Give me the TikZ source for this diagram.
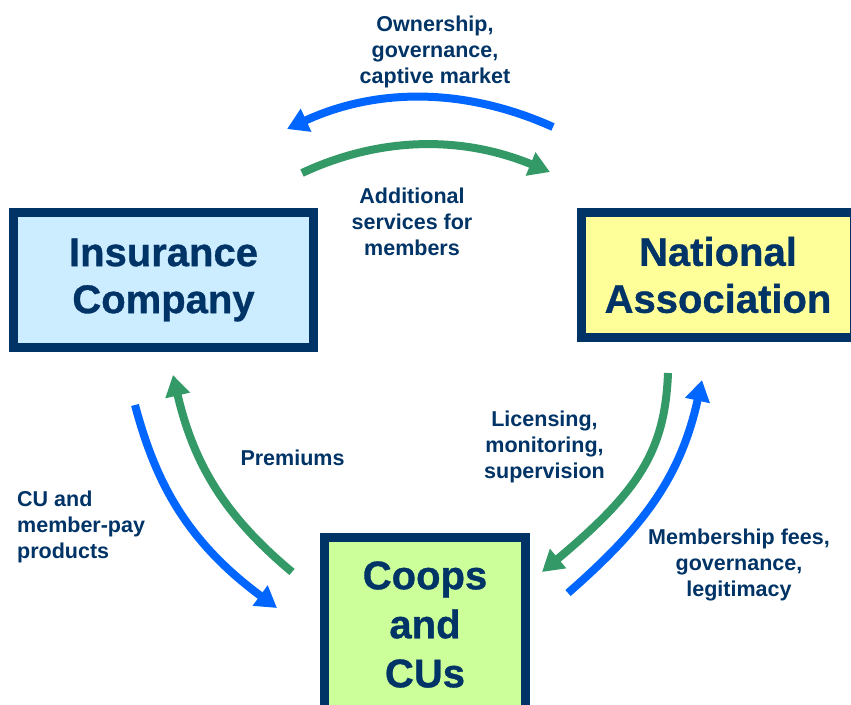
\documentclass[tikz,border=0pt]{standalone}
\usepackage{fontspec}
\setmainfont{Liberation Sans}
\newfontfamily\bigfont[FakeBold=0.8]{Liberation Sans Bold}
\usetikzlibrary{arrows.meta}
\definecolor{navy}{HTML}{003366}
\definecolor{arrblue}{HTML}{0066FF}
\definecolor{arrgreen}{HTML}{339966}
\definecolor{fillblue}{HTML}{CCECFF}
\definecolor{fillyellow}{HTML}{FFFF99}
\definecolor{fillgreen}{HTML}{CCFF99}
\begin{document}
\begin{tikzpicture}[x=1pt,y=-1pt,
  box/.style={draw=navy, line width=9pt, rectangle, inner sep=0pt, align=center,
    font=\fontsize{40}{47}\bigfont\selectfont, text=navy},
  lbl/.style={inner sep=0pt, font=\fontsize{21.5}{26}\bfseries\selectfont, text=navy},
  bluearr/.style={draw=arrblue, line width=8pt, -{Triangle[length=21pt,width=24pt]}},
  greenarr/.style={draw=arrgreen, line width=8pt, -{Triangle[length=21pt,width=24pt]}}]
\useasboundingbox (0,0) rectangle (851,704);
\clip (0,0) rectangle (851,704);
\fill[white] (0,0) rectangle (851,704);
% boxes
\node[box, fill=fillblue, minimum width=300pt, minimum height=135pt] (ins) at (163.5,280)
  {Insurance\\Company};
\node[box, fill=fillyellow, minimum width=273pt, minimum height=125pt] (nat) at (718,275)
  {National\\Association};
\node[box, fill=fillgreen, minimum width=201pt, minimum height=174pt,
  font=\fontsize{40}{49}\bigfont\selectfont] (coop) at (425,624.5)
  {Coops\\and\\CUs};
% labels
\node[lbl, align=center] (own) at (435,51.5) {Ownership,\\governance,\\captive market};
\node[lbl, align=center] (add) at (412,221.5) {Additional\\services for\\members};
\node[lbl, anchor=base] (prem) at (292.5,465) {Premiums};
\node[lbl, align=left, anchor=west] (cu) at (17,526.5) {CU and\\member-pay\\products};
\node[lbl, align=center] (lic) at (544.5,446.5) {Licensing,\\monitoring,\\supervision};
\node[lbl, align=center] (mem) at (739,565) {Membership fees,\\governance,\\legitimacy};
% arrow end points
\coordinate (tbS) at (553,127);
\coordinate (tbE) at (287,129);
\coordinate (tgS) at (302,173);
\coordinate (tgE) at (550,172);
\coordinate (lbS) at (135,405);
\coordinate (lbE) at (277,608);
\coordinate (lgS) at (292,572);
\coordinate (lgE) at (173,375);
\coordinate (rgS) at (668,373);
\coordinate (rgE) at (542,572);
\coordinate (rbS) at (568,593);
\coordinate (rbE) at (702,380);
% arrows
\draw[bluearr] (tbS) .. controls (464,87) and (376,88) .. (tbE);
\draw[greenarr] (tgS) .. controls (381,136) and (463,136) .. (tgE);
\draw[bluearr] (lbS) .. controls (155,480) and (185,540) .. (lbE);
\draw[greenarr] (lgS) .. controls (230,520) and (195,470) .. (lgE);
\draw[greenarr] (rgS) .. controls (665,450) and (640,490) .. (rgE);
\draw[bluearr] (rbS) .. controls (640,530) and (680,480) .. (rbE);
\end{tikzpicture}
\end{document}
